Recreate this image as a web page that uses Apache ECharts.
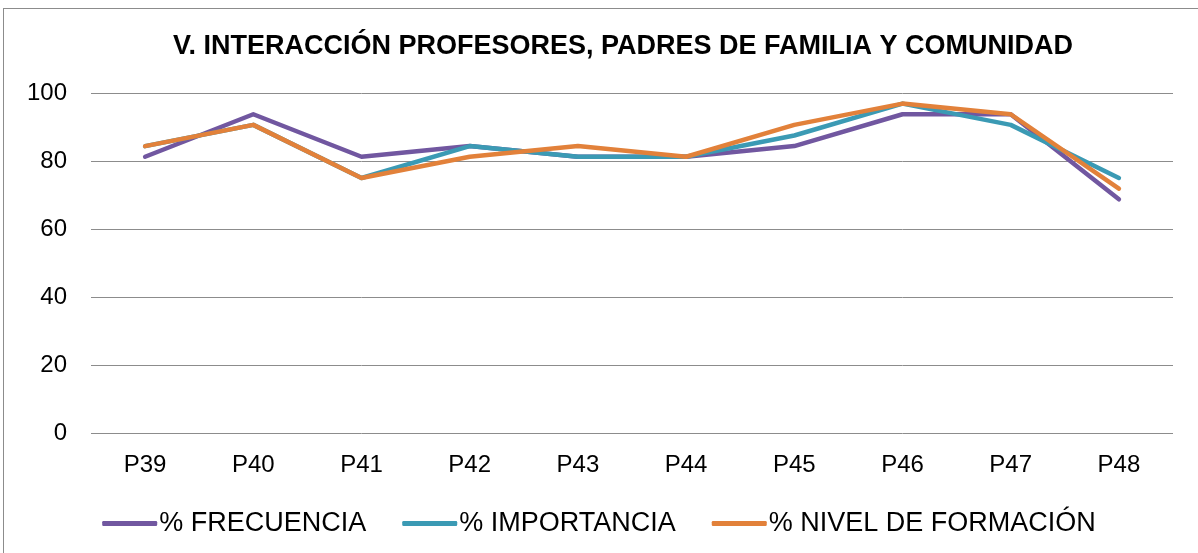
<!DOCTYPE html>
<html>
<head>
<meta charset="utf-8">
<script src="https://cdn.jsdelivr.net/npm/echarts@6/dist/echarts.min.js"></script>
<style>
  html, body { margin: 0; padding: 0; background: #fff; }
  #frame {
    position: absolute; left: 3px; top: 8px; width: 1200px; height: 560px;
    border: 1px solid #8c8c8c; box-sizing: border-box;
  }
  #chart { position: absolute; left: 0; top: 0; width: 1198px; height: 553px; }
</style>
</head>
<body>
<div id="frame"></div>
<div id="chart"></div>
<script>
  // preguntas P39..P48
  var categories = ['P39', 'P40', 'P41', 'P42', 'P43', 'P44', 'P45', 'P46', 'P47', 'P48'];
  var frecuencia = [81.25, 93.75, 81.25, 84.38, 81.25, 81.25, 84.38, 93.75, 93.75, 68.75];
  var importancia = [84.38, 90.63, 75, 84.38, 81.25, 81.25, 87.5, 96.88, 90.63, 75];
  var formacion = [84.38, 90.63, 75, 81.25, 84.38, 81.25, 90.63, 96.88, 93.75, 71.88];
  var yTicks = [0, 20, 40, 60, 80, 100];

  var FONT = "Arial, 'Liberation Sans', sans-serif";
  var colors = ['#7157a0', '#3b9ab4', '#e2813a'];

  function lineSeries(name, data, color) {
    return {
      name: name,
      type: 'line',
      data: data,
      symbol: 'none',
      smooth: false,
      lineStyle: { width: 4.5, color: color, cap: 'round', join: 'round' },
      itemStyle: { color: color }
    };
  }

  var chart = echarts.init(document.getElementById('chart'), null, { renderer: 'canvas' });
  chart.setOption({
    backgroundColor: 'transparent',
    animation: false,
    title: {
      text: 'V. INTERACCIÓN PROFESORES, PADRES DE FAMILIA Y COMUNIDAD',
      left: 618,
      textAlign: 'center',
      top: 28,
      textStyle: { fontFamily: FONT, fontSize: 27, fontWeight: 'bold', color: '#000' }
    },
    legend: {
      top: 505,
      left: 'center',
      itemWidth: 55,
      itemHeight: 5,
      itemGap: 36,
      icon: 'roundRect',
      textStyle: { fontFamily: FONT, fontSize: 27, color: '#000', padding: [0, 0, 0, -3] },
      data: ['% FRECUENCIA', '% IMPORTANCIA', '% NIVEL DE FORMACIÓN']
    },
    grid: { left: 91, right: 25, top: 93, bottom: 120, containLabel: false },
    xAxis: {
      type: 'category',
      data: categories,
      boundaryGap: true,
      axisLine: { show: false },
      axisTick: { show: false },
      axisLabel: { fontFamily: FONT, fontSize: 24, color: '#000', margin: 20 }
    },
    yAxis: {
      type: 'value',
      min: yTicks[0],
      max: yTicks[yTicks.length - 1],
      interval: 20,
      axisLine: { show: false },
      axisTick: { show: false },
      axisLabel: { fontFamily: FONT, fontSize: 24, color: '#000', margin: 24 },
      splitLine: { lineStyle: { color: '#8c8c8c', width: 1 } }
    },
    series: [
      lineSeries('% FRECUENCIA', frecuencia, colors[0]),
      lineSeries('% IMPORTANCIA', importancia, colors[1]),
      lineSeries('% NIVEL DE FORMACIÓN', formacion, colors[2])
    ]
  });
</script>
</body>
</html>
